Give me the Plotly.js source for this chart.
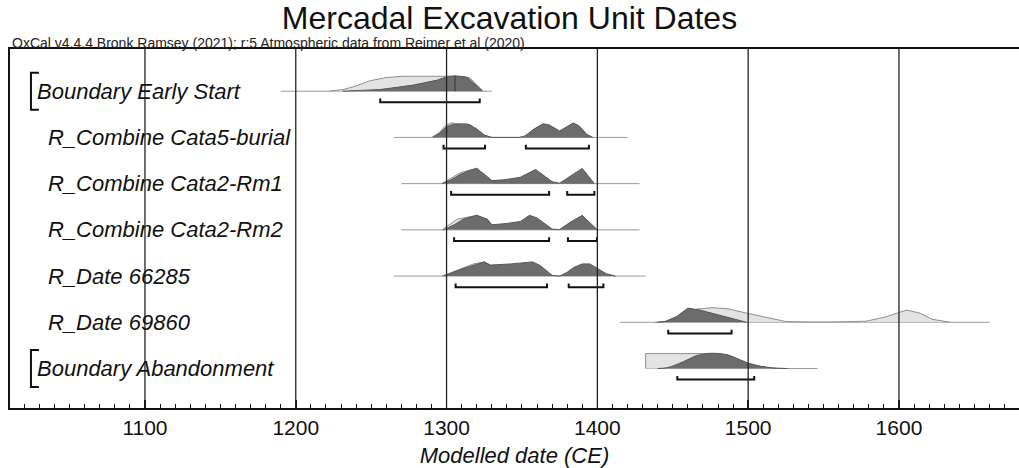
<!DOCTYPE html>
<html><head><meta charset="utf-8">
<script src="https://cdn.plot.ly/plotly-3.0.1.min.js"></script>
<style>html,body{margin:0;padding:0;background:#fff;overflow:hidden}</style>
</head><body>
<div id="chart" style="width:1019px;height:468px"></div>
<script>
// ---------- data ----------
const rowLabels = ["Boundary Early Start", "R_Combine Cata5-burial", "R_Combine Cata2-Rm1",
  "R_Combine Cata2-Rm2", "R_Date 66285", "R_Date 69860", "Boundary Abandonment"];
const rowIsBoundary = [true, false, false, false, false, false, true];
// extent of the thin base line of each row (calendar years CE)
const baselineExtents = [[1190,1330],[1265,1420],[1270,1428],[1270,1428],[1265,1432],[1415,1660],[1432,1546]];

// unmodelled (light) distributions: [year, relative probability]
const earlyStartPrior = [[1222,0],[1232,0.12],[1240,0.35],[1249,0.68],[1260,0.9],[1271,0.98],[1299,0.98],[1305.6,1.0],[1315.5,0.87],[1324,0]];
const cata5Prior = [[1290,0],[1295,0.3],[1299,0.75],[1303,0.95],[1308,0.9],[1314,0.88],[1320,0.55],[1325,0.15],[1330,0]];
const cata2Rm1Prior = [[1297,0],[1303,0.35],[1309,0.71],[1315,0.88],[1320,1.0],[1330,0.2],[1331,0]];
const cata2Rm2Prior = [[1297,0],[1303,0.38],[1307,0.69],[1313,0.82],[1320,0.95],[1327,0.7],[1330,0.33],[1331,0]];
const date66285Prior = [[1297,0],[1305,0.3],[1311,0.55],[1318,0.8],[1325,0.93],[1329,0.72],[1330,0]];
const date69860Prior = [[1438,0],[1445,0.05],[1455,0.45],[1466,0.87],[1476,0.96],[1486,0.9],[1499,0.6],[1512,0.33],[1525,0.05],[1540,0.02],[1556,0.02],[1578,0.07],[1591,0.35],[1605,0.8],[1614,0.6],[1622,0.2],[1634,0]];
const abandonmentPrior = [[1432,0],[1432,0.98],[1477,0.98],[1486,0.9],[1495,0.55],[1500,0.35],[1508,0.15],[1517,0.03],[1526,0]];

// modelled (dark) distributions
const earlyStartPosterior = [[1231,0],[1256,0.11],[1278,0.4],[1294,0.73],[1299,0.91],[1305.6,1.0],[1313.5,0.93],[1324,0]];
const cata5Posterior = [[1291,0],[1295,0.25],[1300,0.7],[1304,0.85],[1310,0.87],[1315,0.85],[1320,0.55],[1325,0.15],[1330,0],
  [1348,0],[1352,0.1],[1358,0.55],[1364,0.9],[1368,0.82],[1375,0.42],[1378,0.6],[1384,0.95],[1388,0.75],[1393,0.2],[1397,0]];
const cata2Rm1Posterior = [[1297,0],[1303,0.25],[1309,0.6],[1315,0.85],[1320,1.0],[1330,0.2],[1338,0.25],[1349,0.42],[1359,0.93],[1370,0.13],[1375,0.03],[1382,0.5],[1390,1.0],[1398,0]];
const cata2Rm2Posterior = [[1298,0],[1305,0.33],[1311,0.69],[1320,0.95],[1327,0.7],[1330,0.33],[1340,0.42],[1349,0.55],[1355,0.95],[1360,0.78],[1370,0.05],[1375,0.02],[1382,0.5],[1390,0.95],[1400,0]];
const date66285Posterior = [[1298,0],[1311,0.49],[1325,0.93],[1329,0.72],[1343,0.8],[1357,0.93],[1362,0.7],[1370,0.05],[1375,0],[1380,0.25],[1384,0.55],[1390,0.8],[1395,0.8],[1400,0.5],[1406,0.15],[1412,0]];
const date69860Posterior = [[1440,0],[1445,0.05],[1452.5,0.37],[1460,0.93],[1468,0.8],[1479,0.5],[1490,0.2],[1499,0]];
const abandonmentPosterior = [[1440,0],[1446,0.05],[1451,0.2],[1457,0.45],[1466,0.85],[1472,0.97],[1477,1.0],[1486,0.9],[1495,0.55],[1500,0.35],[1508,0.15],[1517,0.03],[1526,0]];

// 95.4% highest posterior density ranges
const ranges95 = [
  [[1256,1322]],
  [[1298,1325.5],[1352.6,1394.4]],
  [[1303,1368],[1380,1398]],
  [[1305,1368],[1380.5,1399.7]],
  [[1306,1366.6],[1381,1404]],
  [[1447,1489]],
  [[1453,1504]]
];
const earlyStartMedian = 1305.6;
const gridYears = [1100, 1200, 1300, 1400, 1500, 1600];

// ---------- build ----------
const priors = [earlyStartPrior, cata5Prior, cata2Rm1Prior, cata2Rm2Prior, date66285Prior, date69860Prior, abandonmentPrior];
const posteriors = [earlyStartPosterior, cata5Posterior, cata2Rm1Posterior, cata2Rm2Posterior, date66285Posterior, date69860Posterior, abandonmentPosterior];

const nRows = rowLabels.length;
const H = 0.33;        // height of a full-probability peak in row units
const GAP = 0.24;      // range bar below the base line
const TICK = 0.08;     // range bar end ticks
const traces = [];
const annotations = [];
const fontFam = "Liberation Sans, Arial, sans-serif";

rowLabels.forEach((lab, i) => {
  const base = nRows - i;
  const ext = baselineExtents[i];
  traces.push({x: ext, y: [base, base], mode: 'lines', line: {color: '#9a9a9a', width: 1}, hoverinfo: 'skip'});
  const pr = priors[i];
  traces.push({x: pr.map(p => p[0]), y: pr.map(p => base + p[1]*H), mode: 'lines', fill: 'toself',
    fillcolor: '#e3e3e3', line: {color: '#8f8f8f', width: 1}, hoverinfo: 'skip'});
  const po = posteriors[i];
  traces.push({x: po.map(p => p[0]), y: po.map(p => base + p[1]*H), mode: 'lines', fill: 'toself',
    fillcolor: '#6c6c6c', line: {color: '#575757', width: 1, shape: rowIsBoundary[i] && i > 0 ? 'spline' : 'linear'}, hoverinfo: 'skip'});
  ranges95[i].forEach(r => {
    const yb = base - GAP;
    traces.push({x: [r[0], r[0], r[1], r[1]], y: [yb + TICK, yb, yb, yb + TICK], mode: 'lines',
      line: {color: '#111', width: 2}, hoverinfo: 'skip'});
  });
  if (rowIsBoundary[i]) {
    traces.push({x: [1029.7, 1024.4, 1024.4, 1029.7], y: [base + 0.4, base + 0.4, base - 0.4, base - 0.4], mode: 'lines',
      line: {color: '#111', width: 2}, hoverinfo: 'skip'});
  }
  annotations.push({x: rowIsBoundary[i] ? 1027.3 : 1034.2, y: base, xref: 'x', yref: 'y', text: lab, showarrow: false,
    xanchor: 'left', yanchor: 'middle', font: {family: fontFam, size: 22, style: 'italic', color: '#111'}});
});
traces.push({x: [earlyStartMedian, earlyStartMedian], y: [nRows, nRows + H], mode: 'lines', line: {color: '#333', width: 1}, hoverinfo: 'skip'});

annotations.push({x: 0, y: 1.016, xref: 'paper', yref: 'paper', xanchor: 'left', yanchor: 'middle', showarrow: false,
  text: 'OxCal v4.4.4 Bronk Ramsey (2021); r:5 Atmospheric data from Reimer et al (2020)',
  font: {family: fontFam, size: 14, color: '#222'}});

const shapes = gridYears.map(yr => ({type: 'line', xref: 'x', yref: 'paper', x0: yr, x1: yr, y0: 0, y1: 1,
  line: {color: '#222', width: 1.3}, layer: 'above'}));

const layout = {
  width: 1019, height: 468,
  margin: {l: 10, r: 0, t: 49, b: 60},
  paper_bgcolor: '#fff', plot_bgcolor: '#fff',
  showlegend: false,
  title: {text: 'Mercadal Excavation Unit Dates', x: 0.5, xref: 'container', y: 0.963, yref: 'container', yanchor: 'middle',
    font: {family: fontFam, size: 32, color: '#111'}},
  xaxis: {range: [1010.5, 1679.6], tick0: 1000, dtick: 100, ticks: 'inside', ticklen: 8, tickwidth: 1.5, tickcolor: '#111',
    minor: {dtick: 10, ticks: 'inside', ticklen: 4, tickwidth: 1, tickcolor: '#111'},
    showline: true, linewidth: 2, linecolor: '#111', mirror: true, showgrid: false, zeroline: false,
    tickfont: {family: fontFam, size: 21, color: '#111'},
    title: {text: 'Modelled date (CE)', standoff: 10, font: {family: fontFam, size: 22, style: 'italic', color: '#111'}},
    automargin: false, fixedrange: true},
  yaxis: {range: [0.146, 7.913], showline: true, linewidth: 2, linecolor: '#111', mirror: false, showticklabels: false,
    ticks: '', showgrid: false, zeroline: false, fixedrange: true},
  shapes: shapes,
  annotations: annotations
};
Plotly.newPlot('chart', traces, layout, {displayModeBar: false, staticPlot: true});
</script>
</body></html>
